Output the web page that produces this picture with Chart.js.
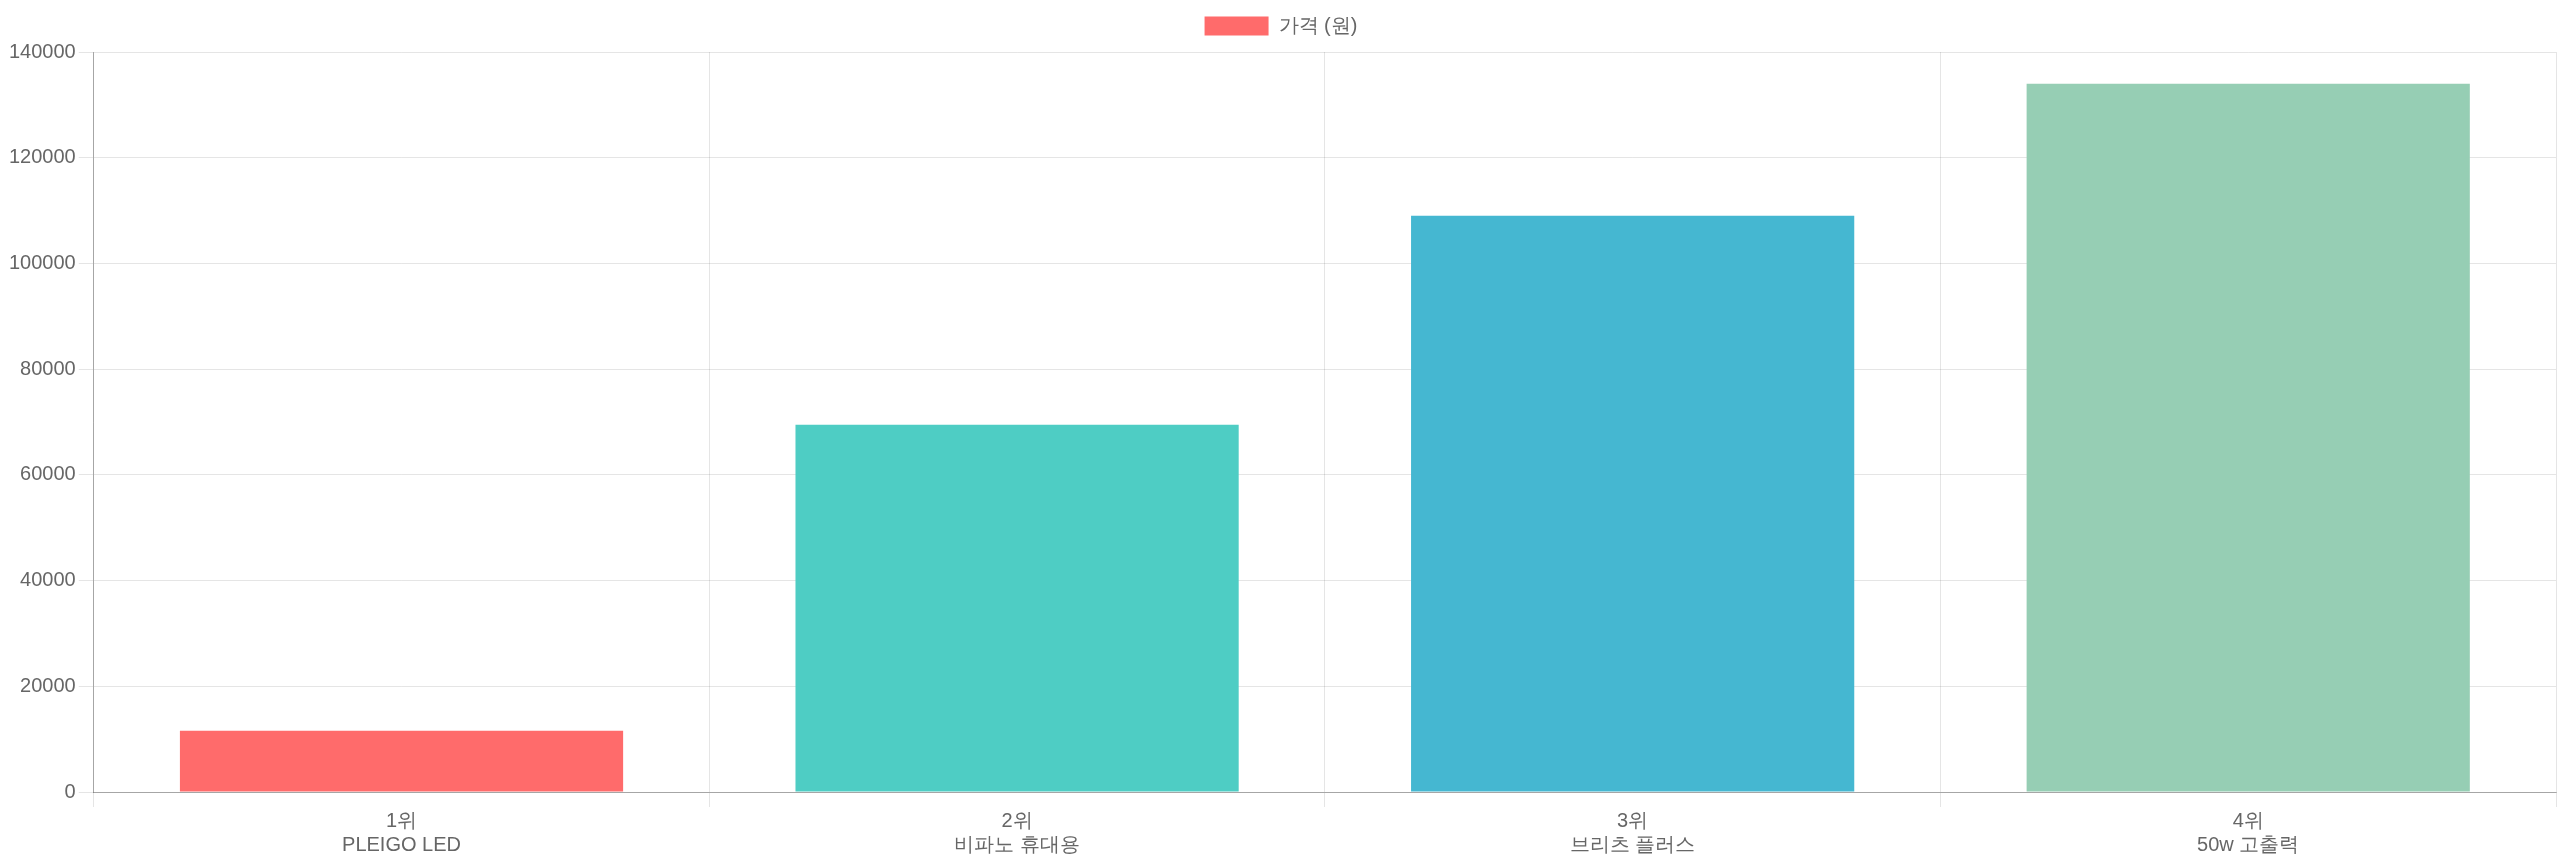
<!DOCTYPE html>
<html lang="ko">

<head>
    <meta charset="UTF-8">
    <meta name="viewport" content="width=device-width, initial-scale=1.0">
    <style>
        html, body {
            margin: 0;
            padding: 0;
            overflow: hidden;
            background-color: #ffffff;
        }

        .chartDiv {
            width: 100vw;
            height: 100vh;
        }
    </style>
    <title>가격 비교</title>
</head>

<body>
    <div class="chartDiv">
        <canvas id="myChart"></canvas>
    </div>
    <script src="https://cdn.jsdelivr.net/npm/chart.js"></script>

    <script>
        const ranks = ['1위', '2위', '3위', '4위'];
        const products = ['PLEIGO LED', '비파노 휴대용', '브리츠 플러스', '50w 고출력'];
        const prices = [11600, 69500, 109000, 134000];
        const barColors = ['#FF6B6B', '#4ECDC4', '#45B7D1', '#96CEB4'];

        const gridColor = 'rgba(0, 0, 0, 0.1)';
        const axisColor = 'rgba(0, 0, 0, 0.28)';
        const font = { family: '"Liberation Sans", Arial, sans-serif', size: 20 };

        // a bit more room under the legend
        const legendGap = {
            id: 'legendGap',
            beforeInit(chart) {
                const fit = chart.legend.fit;
                chart.legend.fit = function () {
                    fit.call(this);
                    this.height += 6;
                };
            }
        };

        const ctx = document.getElementById('myChart');

        new Chart(ctx, {
            type: 'bar',
            data: {
                labels: ranks.map((r, i) => [r, products[i]]),
                datasets: [{
                    label: '가격 (원)',
                    data: prices,
                    backgroundColor: barColors,
                    borderWidth: 0
                }]
            },
            plugins: [legendGap],
            options: {
                responsive: true,
                maintainAspectRatio: false,
                animation: false,
                layout: {
                    padding: { left: 6, right: 4, top: 0, bottom: 5 }
                },
                plugins: {
                    legend: {
                        labels: {
                            boxWidth: 64,
                            boxHeight: 19,
                            padding: 16,
                            color: '#666',
                            font: font
                        }
                    },
                    tooltip: { enabled: false }
                },
                scales: {
                    x: {
                        grid: { color: gridColor, tickLength: 15 },
                        border: { color: axisColor },
                        ticks: { color: '#666', font: font, padding: 2 }
                    },
                    y: {
                        min: 0,
                        max: 140000,
                        grid: { color: gridColor, tickLength: 15 },
                        border: { color: axisColor },
                        ticks: {
                            color: '#666',
                            font: font,
                            stepSize: 20000,
                            padding: 3,
                            callback: (v) => String(v)
                        }
                    }
                }
            }
        });
    </script>

</body>

</html>
